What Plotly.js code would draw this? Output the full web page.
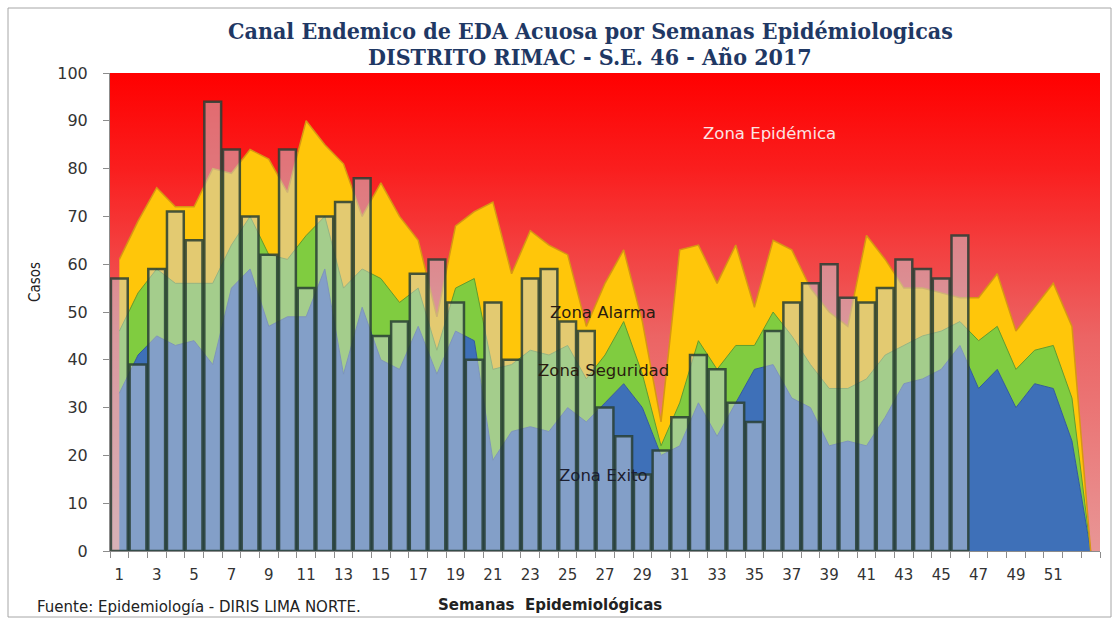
<!DOCTYPE html>
<html>
<head>
<meta charset="utf-8">
<script src="https://cdn.plot.ly/plotly-3.0.1.min.js"></script>
<style>
  html, body { margin: 0; padding: 0; background: #ffffff; }
  #chart { width: 1118px; height: 622px; }
</style>
</head>
<body>
<div id="chart"></div>
<script>
// ---- Data ----
const weeks = [1,2,3,4,5,6,7,8,9,10,11,12,13,14,15,16,17,18,19,20,21,22,23,24,25,26,27,28,29,30,31,32,33,34,35,36,37,38,39,40,41,42,43,44,45,46,47,48,49,50,51,52,53];
const weeksReported = [1,2,3,4,5,6,7,8,9,10,11,12,13,14,15,16,17,18,19,20,21,22,23,24,25,26,27,28,29,30,31,32,33,34,35,36,37,38,39,40,41,42,43,44,45,46];
// 2017 cases (S.E. 1-46)
const casos2017 = [57,39,59,71,65,94,84,70,62,84,55,70,73,78,45,48,58,61,52,40,52,40,57,59,48,46,30,24,16,21,28,41,38,31,27,46,52,56,60,53,52,55,61,59,57,66];
// Zone upper limits
const zonaExito = [33,41,45,43,44,39,55,59,47,49,49,59,37,51,40,38,47,37,46,44,19,25,26,25,30,27,31,35,30,20,22,31,24,31,38,39,32,30,22,23,22,28,35,36,38,43,34,38,30,35,34,23,0];
const zonaSeguridad = [46,54,59,56,56,56,64,70,62,61,66,70,55,59,57,52,55,42,55,57,38,39,42,41,43,36,41,48,37,22,31,44,38,43,43,50,45,39,34,34,36,41,43,45,46,48,44,47,38,42,43,32,0];
const zonaAlarma = [61,69,76,72,72,80,79,84,82,75,90,85,81,70,77,70,65,49,68,71,73,58,67,64,62,47,56,63,48,27,63,64,56,64,51,65,63,55,50,47,66,61,55,55,54,53,53,58,46,51,56,47,0];
// Epidemic zone spans the whole axis up to its maximum
const epidemicX = [0.5, 53.5];
const epidemicTop = [100, 100];
const xTickVals = [1,3,5,7,9,11,13,15,17,19,21,23,25,27,29,31,33,35,37,39,41,43,45,47,49,51];
const yTickVals = [0,10,20,30,40,50,60,70,80,90,100];
const titleLines = ['Canal Endemico de EDA Acuosa por Semanas Epidémiologicas', 'DISTRITO RIMAC - S.E. 46 - Año 2017'];

// ---- Traces ----
const epidemic = {
  x: epidemicX, y: epidemicTop, type: 'scatter', mode: 'lines',
  fill: 'tozeroy', line: {width: 0, color: 'rgba(0,0,0,0)'},
  fillgradient: {type: 'vertical', start: 0, stop: 100,
    colorscale: [[0, 'rgb(232,150,150)'], [0.45, 'rgb(236,100,100)'], [0.8, 'rgb(250,30,30)'], [1, 'rgb(255,0,0)']]},
  hoverinfo: 'skip', showlegend: false
};
const exito = {
  x: weeks, y: zonaExito, type: 'scatter', mode: 'lines', fill: 'tozeroy',
  fillcolor: 'rgb(62,112,184)', line: {color: 'rgb(48,92,160)', width: 1},
  name: 'Zona Exito', showlegend: false
};
const seguridad = {
  x: weeks, y: zonaSeguridad, type: 'scatter', mode: 'lines', fill: 'tonexty',
  fillcolor: 'rgb(128,204,64)', line: {color: 'rgb(95,160,45)', width: 1},
  name: 'Zona Seguridad', showlegend: false
};
const alarma = {
  x: weeks, y: zonaAlarma, type: 'scatter', mode: 'lines', fill: 'tonexty',
  fillcolor: 'rgb(255,198,10)', line: {color: 'rgb(215,150,20)', width: 1.5},
  name: 'Zona Alarma', showlegend: false
};
const bars = {
  x: weeksReported, y: casos2017, type: 'bar', xaxis: 'x', yaxis: 'y2',
  marker: {color: 'rgba(200,205,215,0.5)', line: {color: 'rgba(40,62,52,0.85)', width: 2.5}},
  name: 'Casos 2017', showlegend: false
};

// pixel helpers (plot area 110..1100 x 73..551)
const plotL = 110, plotW = 990, plotT = 73, plotH = 478;
const px = v => (v - plotL) / plotW;
const py = v => 1 - (v - plotT) / plotH;

const zoneFont = (c) => ({family: 'DejaVu Sans, Verdana, sans-serif', size: 16.5, color: c});

const layout = {
  width: 1118, height: 622,
  paper_bgcolor: '#ffffff', plot_bgcolor: '#ffffff',
  margin: {l: 110, r: 18, t: 73, b: 71},
  showlegend: false,
  bargap: 0.1,
  xaxis: {
    range: [0.5, 53.5], tickvals: xTickVals, ticktext: xTickVals.map(String),
    ticks: '', showgrid: false, zeroline: false,
    showline: true, linecolor: '#8c8c8c', linewidth: 1,
    tickfont: {family: 'DejaVu Sans, Verdana, sans-serif', size: 15, color: '#333333'},
    ticklabelstandoff: 10,
    minor: {tick0: 0.5, dtick: 1, ticks: 'outside', ticklen: 6, tickcolor: '#8c8c8c', showgrid: false}
  },
  yaxis: {
    range: [0, 100], tickvals: yTickVals, ticks: 'outside', ticklen: 6, tickcolor: '#8c8c8c',
    showgrid: false, zeroline: false, showline: true, linecolor: '#8c8c8c',
    tickfont: {family: 'DejaVu Sans, Verdana, sans-serif', size: 16, color: '#333333'},
    ticklabelstandoff: 12
  },
  yaxis2: {range: [0, 100], overlaying: 'y', visible: false, fixedrange: true},
  annotations: [
    {x: px(590), y: py(30), xref: 'paper', yref: 'paper', text: '<b>' + titleLines[0] + '</b>', showarrow: false,
     xanchor: 'center', yanchor: 'middle',
     font: {family: 'DejaVu Serif Condensed, DejaVu Serif, serif', size: 23, color: '#1f3864'}},
    {x: px(590), y: py(57), xref: 'paper', yref: 'paper', text: '<b>' + titleLines[1] + '</b>', showarrow: false,
     xanchor: 'center', yanchor: 'middle',
     font: {family: 'DejaVu Serif Condensed, DejaVu Serif, serif', size: 23, color: '#1f3864'}},
    {x: 35.8, y: 87.4, xref: 'x', yref: 'y', text: 'Zona Epidémica', showarrow: false,
     font: zoneFont('#fbe3e3')},
    {x: 26.9, y: 50, xref: 'x', yref: 'y', text: 'Zona Alarma', showarrow: false,
     font: zoneFont('#2a1c10')},
    {x: 26.9, y: 37.7, xref: 'x', yref: 'y', text: 'Zona Seguridad', showarrow: false,
     font: zoneFont('#2a1c10')},
    {x: 26.9, y: 15.7, xref: 'x', yref: 'y', text: 'Zona Exito', showarrow: false,
     font: zoneFont('#1c2030')},
    {x: px(35), y: py(607), xref: 'paper', yref: 'paper', text: 'Fuente: Epidemiología - DIRIS LIMA NORTE.', showarrow: false,
     xanchor: 'left', yanchor: 'middle',
     font: {family: 'DejaVu Sans, Verdana, sans-serif', size: 15, color: '#222222'}},
    {x: px(550), y: py(605), xref: 'paper', yref: 'paper', text: '<b>Semanas  Epidemiológicas</b>', showarrow: false,
     xanchor: 'center', yanchor: 'middle',
     font: {family: 'DejaVu Sans, sans-serif', size: 15, color: '#222222'}},
    {x: px(35), y: py(282), xref: 'paper', yref: 'paper', text: 'Casos', showarrow: false, textangle: -90,
     xanchor: 'center', yanchor: 'middle',
     font: {family: 'Liberation Sans Narrow, DejaVu Sans Condensed, sans-serif', size: 15, color: '#222222'}}
  ],
  shapes: [
    {type: 'rect', xref: 'paper', yref: 'paper', x0: px(8), x1: px(1111), y0: py(617), y1: py(8),
     line: {color: '#a6a6a6', width: 1}, fillcolor: 'rgba(0,0,0,0)', layer: 'below'}
  ]
};

Plotly.newPlot('chart', [epidemic, exito, seguridad, alarma, bars], layout, {staticPlot: true, displayModeBar: false});
</script>
</body>
</html>
